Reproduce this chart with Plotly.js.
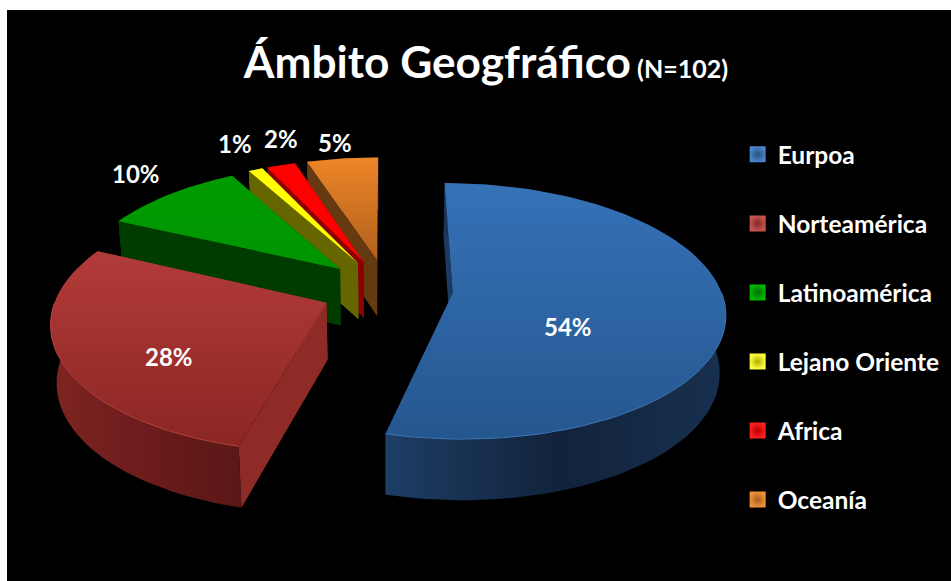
<!DOCTYPE html>
<html>
<head>
<meta charset="utf-8">
<script src="https://cdn.plot.ly/plotly-3.0.1.min.js"></script>
<style>html,body{margin:0;padding:0;background:#fff}#chart{width:951px;height:581px}</style>
</head>
<body>
<div id="chart"></div>
<script>
const categories = ["Eurpoa", "Norteamérica", "Latinoamérica", "Lejano Oriente", "Africa", "Oceanía"];
const values = [54, 28, 10, 1, 2, 5];
const topColors = [["#25578F", "#3672B8"], ["#8B2623", "#B23B39"], ["#009500", "#009B00"], ["#FFFF00", "#FFFF00"], ["#FF0000", "#FF0000"], ["#B0611C", "#EE8528"]];
const rimColors = [["#1D3E66", "#12233B", "#17304F"], ["#7E2522", "#6C1C1C", "#5A1716"], ["#003C00", "#003C00", "#003C00"], ["#666600", "#666600", "#666600"], ["#8C0000", "#8C0000", "#8C0000"], ["#663A10", "#663A10", "#663A10"]];
const faceColors = ["#1B3C61", "#8E2B26", "#003C00", "#666600", "#8C0000", "#663A10"];
const legendColors = ["#4A86CC", "#C85450", "#00B800", "#FFFF40", "#FF2020", "#F09238"];
const legendEdge = ["#27507F", "#7E2A28", "#006E00", "#B0B000", "#B80000", "#A85E1C"];
const rimHighlight = ["#3F76B4", "#B5423C"];
const labelX = [568, 169, 136, 235, 281, 335];
const labelY = [326.5, 356.5, 173.5, 143.5, 138.5, 142.5];

// Projection of the exploded, tilted pie onto the axes (axes are in pixel-sized units)
const cx = 387, cy = 289.5, fx = 268, fy = 124.5, persp = 0.138, explode = 0.246;
const wallH = 57, wallPersp = 0.065, lowScale = 0.982;
const rad = d => d * Math.PI / 180;
const proj = (X, Y, low) => {
  const w = 1 + persp * Y;
  const drop = low ? wallH / (1 + wallPersp * Y) : 0;
  const k = low ? lowScale : 1;
  return [cx + k * fx * X / w, cy - fy * Y / w + drop];
};

const total = values.reduce((a, b) => a + b, 0);
let cum = 0;
const slices = values.map((v, i) => {
  const t0 = cum / total * 360; cum += v; const t1 = cum / total * 360;
  const m = (t0 + t1) / 2;
  return { i, t0, t1, ax: explode * Math.sin(rad(m)), ay: explode * Math.cos(rad(m)) };
});
const arc = (s, low, from, to) => {
  const a = from === undefined ? s.t0 : from, b = to === undefined ? s.t1 : to;
  const n = Math.max(2, Math.ceil(Math.abs(b - a) / 2)), pts = [];
  for (let k = 0; k <= n; k++) {
    const t = rad(a + (b - a) * k / n);
    pts.push(proj(s.ax + Math.sin(t), s.ay + Math.cos(t), low));
  }
  return pts;
};
const poly = (pts, extra) => Object.assign({
  type: "scatter", mode: "lines", x: pts.map(p => p[0]), y: pts.map(p => p[1]),
  fill: "toself", line: { width: 0 }, showlegend: false, hoverinfo: "skip"
}, extra);

const traces = [];
// legend entries
categories.forEach((c, i) => traces.push({
  type: "scatter", mode: "markers", x: [-100], y: [-100], name: c, legendgroup: c,
  marker: { symbol: "square", size: 16, color: legendColors[i], gradient: { type: "radial", color: legendEdge[i] }, line: { width: 0 } },
  hoverinfo: "skip"
}));
// slices, back to front
[5, 4, 3, 2, 1, 0].forEach(i => {
  const s = slices[i];
  const apexT = proj(s.ax, s.ay, false), apexB = proj(s.ax, s.ay, true);
  const topArc = arc(s, false), lowArc = arc(s, true);
  const f = faceColors[i];
  traces.push(poly([topArc[0], apexT, apexB, lowArc[0], topArc[0]], { fillcolor: f }));
  traces.push(poly([topArc[topArc.length - 1], apexT, apexB, lowArc[lowArc.length - 1], topArc[topArc.length - 1]], { fillcolor: f }));
  const r = rimColors[i];
  traces.push(poly(topArc.concat(lowArc.slice().reverse()), {
    fillgradient: { type: "horizontal", colorscale: [[0, r[0]], [0.5, r[1]], [1, r[2]]] }
  }));
  const t = topColors[i];
  traces.push(poly([apexT].concat(topArc, [apexT]), {
    fillgradient: { type: "vertical", colorscale: [[0, t[0]], [1, t[1]]] }
  }));
  if (i < 2) {
    const front = i === 0 ? arc(s, false, 90, s.t1) : arc(s, false, s.t0, 270);
    traces.push({
      type: "scatter", mode: "lines", x: front.map(p => p[0]), y: front.map(p => p[1]),
      line: { width: 1, color: rimHighlight[i] }, showlegend: false, hoverinfo: "skip"
    });
  }
});

const annotations = values.map((v, i) => ({
  x: labelX[i], y: labelY[i], xref: "x", yref: "y", text: "<b>" + v + "%</b>", showarrow: false,
  font: { family: "Lato", size: 24, color: "#fff" }
}));

const layout = {
  width: 951, height: 581,
  paper_bgcolor: "#fff", plot_bgcolor: "#000",
  margin: { l: 7, r: 0, t: 10, b: 0, pad: 0 },
  title: {
    text: "<b>Ámbito Geogfráfico<span style='font-size:25px'> (N=102)</span></b>",
    font: { family: "Lato", size: 44.2, color: "#fff" },
    x: 482.5 / 951, xanchor: "center", xref: "paper", yref: "container", y: 0.893, yanchor: "middle"
  },
  xaxis: { range: [7, 951], visible: false, fixedrange: true },
  yaxis: { range: [581, 10], visible: false, fixedrange: true },
  showlegend: true,
  legend: {
    x: 0.774, y: 0.7865, xanchor: "left", yanchor: "top", bgcolor: "rgba(0,0,0,0)", traceorder: "grouped",
    tracegroupgap: 34.2, itemwidth: 30,
    font: { family: "Lato", size: 24.5, color: "#fff", weight: 700 }
  },
  annotations
};
Plotly.newPlot("chart", traces, layout, { displayModeBar: false, staticPlot: true });
</script>
</body>
</html>
